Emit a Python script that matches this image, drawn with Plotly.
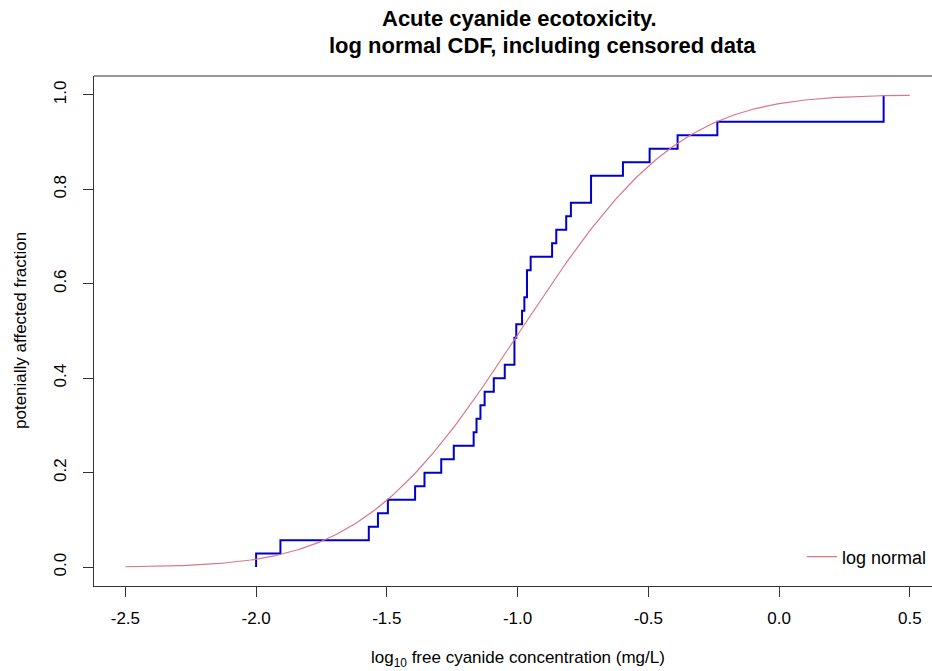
import math
import plotly.graph_objects as go

# ---- data ----
# log10 free cyanide concentrations (sorted, ties repeated)
log_conc = [-2.000, -1.907, -1.569, -1.534, -1.496, -1.392, -1.356, -1.292, -1.244,
            -1.168, -1.157, -1.142, -1.126, -1.091, -1.049, -1.012, -1.012, -1.005,
            -0.983, -0.974, -0.964, -0.964, -0.950, -0.868, -0.852, -0.814, -0.796,
            -0.719, -0.719, -0.597, -0.495, -0.388, -0.236, 0.400, 0.400]
# fitted log-normal parameters (on log10 scale)
fit_mu = -0.99
fit_sigma = 0.475
curve_from, curve_to = -2.5, 0.5

x_tick_vals = [-2.5, -2.0, -1.5, -1.0, -0.5, 0.0, 0.5]
x_tick_text = ["-2.5", "-2.0", "-1.5", "-1.0", "-0.5", "0.0", "0.5"]
y_tick_vals = [0.0, 0.2, 0.4, 0.6, 0.8, 1.0]
y_tick_text = ["0.0", "0.2", "0.4", "0.6", "0.8", "1.0"]

title_line1 = "Acute cyanide ecotoxicity."
title_line2 = "log normal CDF, including censored data"
x_title = "log<sub>10</sub> free cyanide concentration (mg/L)"
y_title = "potenially affected fraction"
legend_label = "log normal"

# ---- ECDF steps ----
n = len(log_conc)
step_x = [log_conc[0]]
step_y = [0.0]
count = 0
uniq = []
for v in log_conc:
    if not uniq or uniq[-1][0] != v:
        uniq.append([v, 0])
    uniq[-1][1] += 1
for v, c in uniq:
    count += c
    step_x.append(v)
    step_y.append(count / n)

# ---- fitted CDF ----
npts = 301
cx = [curve_from + (curve_to - curve_from) * i / (npts - 1) for i in range(npts)]
cy = [0.5 * (1 + math.erf((x - fit_mu) / (fit_sigma * math.sqrt(2)))) for x in cx]

FONT = "Liberation Sans, Arial, sans-serif"
CURVE_COL = "#D9768A"

fig = go.Figure()
fig.add_trace(go.Scatter(x=step_x, y=step_y, mode="lines", line_shape="hv",
                         line=dict(color="#0000CD", width=2), showlegend=False,
                         hoverinfo="skip"))
fig.add_trace(go.Scatter(x=cx, y=cy, mode="lines", name=legend_label,
                         line=dict(color=CURVE_COL, width=1.2), showlegend=True))

fig.update_layout(
    width=932, height=671,
    margin=dict(l=94, r=0, t=76, b=85),
    plot_bgcolor="white", paper_bgcolor="white",
    font=dict(family=FONT, size=17, color="black"),
    xaxis=dict(range=[-2.62, 0.585], tickvals=x_tick_vals, ticktext=x_tick_text,
               ticks="outside", ticklen=10, tickwidth=1, tickcolor="#333",
               showline=True, linecolor="#333", linewidth=1,
               showgrid=False, zeroline=False, ticklabelstandoff=7,
               tickfont=dict(family=FONT, size=17, color="black")),
    yaxis=dict(range=[-0.04, 1.04], tickvals=y_tick_vals, ticktext=y_tick_text,
               ticks="outside", ticklen=10, tickwidth=1, tickcolor="#333",
               showline=True, linecolor="#333", linewidth=1,
               showgrid=False, zeroline=False, tickangle=-90, ticklabelstandoff=10,
               tickfont=dict(family=FONT, size=17, color="black")),
    legend=dict(x=1.0, xanchor="right", y=0.057, yanchor="middle",
                bgcolor="rgba(0,0,0,0)", font=dict(family=FONT, size=18, color="black")),
    shapes=[dict(type="line", xref="paper", yref="paper", x0=0, x1=1, y0=1, y1=1,
                 line=dict(color="#333", width=1))],
    annotations=[
        dict(text="<b>" + title_line1 + "</b>", xref="paper", yref="paper",
             x=(519.5 - 94) / 838, y=(586 - 19) / 510, xanchor="center", yanchor="middle",
             showarrow=False, font=dict(family=FONT, size=22, color="black")),
        dict(text="<b>" + title_line2 + "</b>", xref="paper", yref="paper",
             x=(542 - 94) / 838, y=(586 - 45) / 510, xanchor="center", yanchor="middle",
             showarrow=False, font=dict(family=FONT, size=22, color="black")),
        dict(text=x_title, xref="x", yref="paper", x=-1.0, y=(586 - 659) / 510,
             xanchor="center", yanchor="middle", showarrow=False,
             font=dict(family=FONT, size=17, color="black")),
        dict(text=y_title, xref="paper", yref="y", x=(20 - 94) / 838, y=0.5,
             xanchor="center", yanchor="middle", textangle=-90, showarrow=False,
             font=dict(family=FONT, size=17, color="black")),
    ],
)

fig.write_html("out.html", config={"displayModeBar": False},
               post_script="document.body.style.margin='0';document.body.style.overflow='hidden';")
